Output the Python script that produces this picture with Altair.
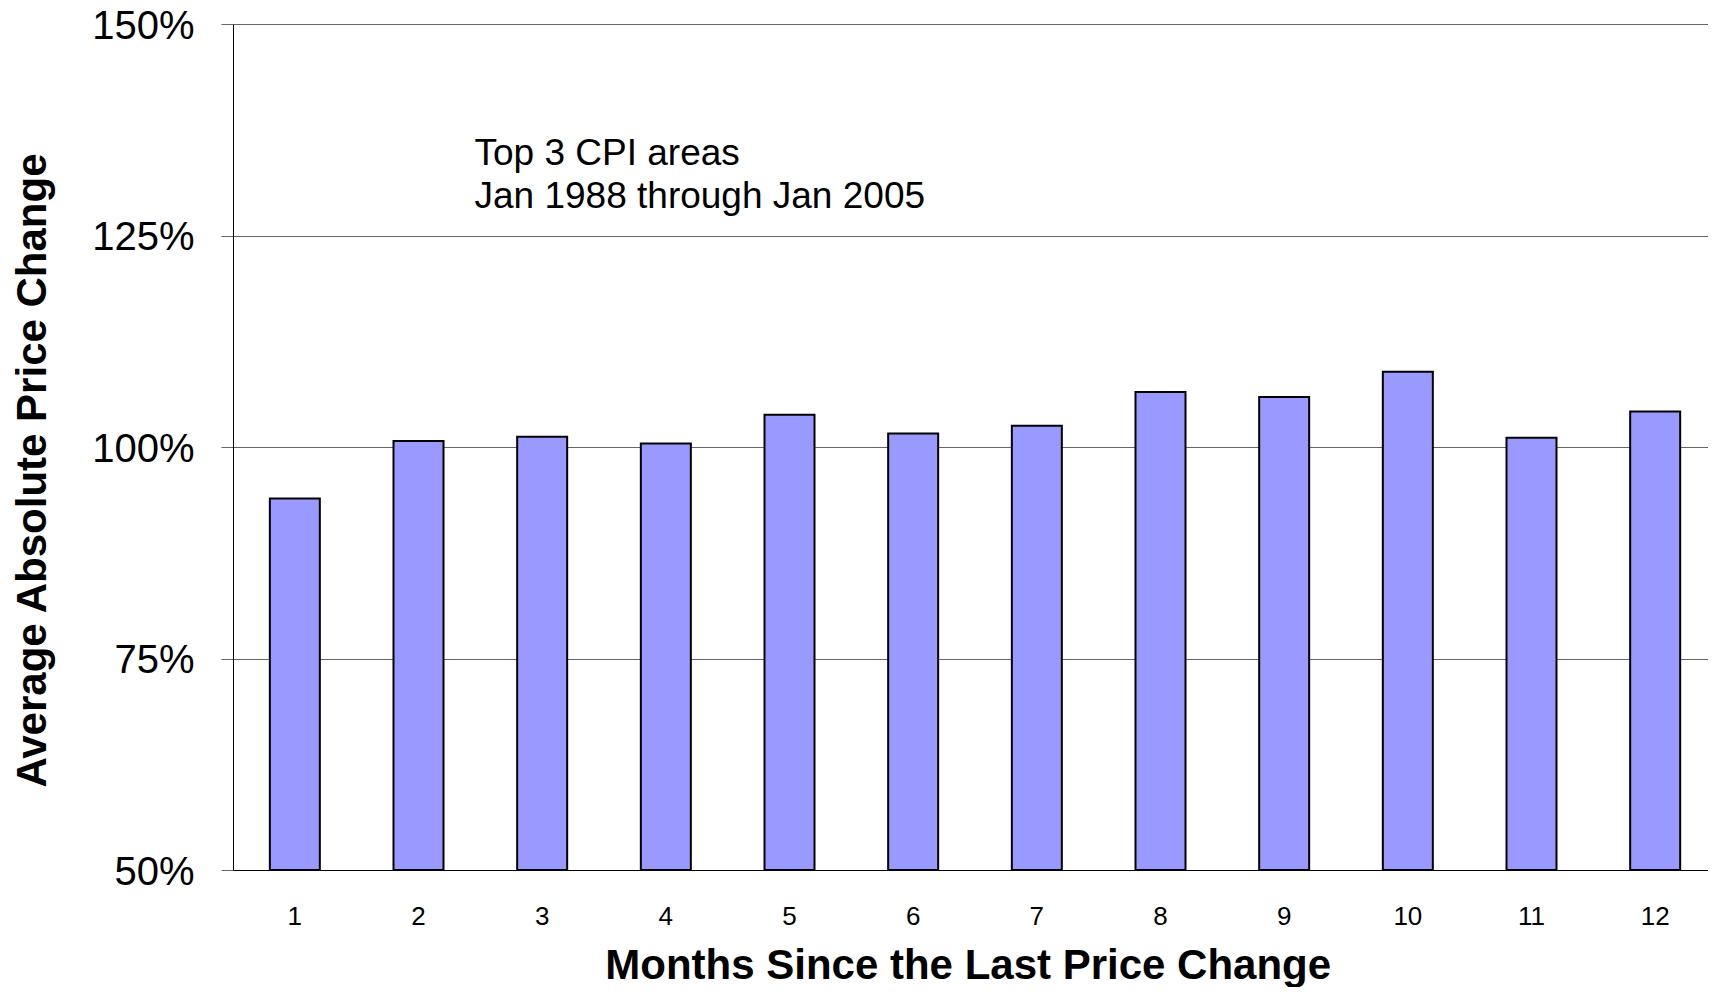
import altair as alt
import pandas as pd

# ---- data ----
months = ["1", "2", "3", "4", "5", "6", "7", "8", "9", "10", "11", "12"]
avg_abs_change = [93.9, 100.7, 101.2, 100.4, 103.8, 101.6, 102.5, 106.5, 105.9, 108.9, 101.1, 104.2]
y_ticks = [50, 75, 100, 125, 150]
note_lines = ["Top 3 CPI areas", "Jan 1988 through Jan 2005"]

df = pd.DataFrame({"month": months, "value": avg_abs_change})
note_df = pd.DataFrame({"k": [0]})

FONT = "Liberation Sans"

bars = alt.Chart(df).mark_bar(
    size=50, color="#9999FF", stroke="#000000", strokeWidth=2
).encode(
    x=alt.X(
        "month:N",
        sort=months,
        scale=alt.Scale(paddingInner=0, paddingOuter=0, range=[0, 1484]),
        axis=alt.Axis(
            title="Months Since the Last Price Change",
            labelAngle=0,
            labelFont=FONT,
            labelFontSize=26,
            labelColor="#000000",
            labelPadding=33,
            ticks=False,
            domain=True,
            domainColor="#000000",
            domainWidth=1,
            grid=False,
            titleFont=FONT,
            titleFontSize=42,
            titleFontWeight="bold",
            titleColor="#000000",
            titleX=734.7,
            titleY=108,
            titleAlign="center",
            titleBaseline="alphabetic",
        ),
    ),
    y=alt.Y(
        "value:Q",
        scale=alt.Scale(domain=[50, 150], nice=False, zero=False),
        axis=alt.Axis(
            title="Average Absolute Price Change",
            values=y_ticks,
            labelExpr="datum.value + '%'",
            labelFont=FONT,
            labelFontSize=40,
            labelColor="#000000",
            labelPadding=27,
            labelOffset=2,
            tickSize=12,
            tickColor="#666666",
            tickWidth=1,
            domain=True,
            domainColor="#000000",
            domainWidth=1,
            grid=True,
            gridColor="#666666",
            gridWidth=1,
            titleFont=FONT,
            titleFontSize=42,
            titleFontWeight="bold",
            titleColor="#000000",
            titleAngle=270,
            titleX=-187.3,
            titleY=446,
            titleAlign="center",
            titleBaseline="alphabetic",
        ),
    ),
    y2=alt.datum(50),
)

note = alt.Chart(note_df).mark_text(
    text=note_lines,
    align="left",
    baseline="alphabetic",
    font=FONT,
    fontSize=37,
    lineHeight=42.5,
    color="#000000",
).encode(
    x=alt.value(241.5),
    y=alt.value(141),
)

chart = alt.layer(bars, note).properties(
    width=1475,
    height=846,
    autosize=alt.AutoSizeParams(type="none"),
    padding={"left": 225, "top": 16, "right": 0, "bottom": 117},
    background="#ffffff",
).configure_view(stroke=None)

chart.save("out.html", embed_options={"renderer": "svg", "actions": False})
